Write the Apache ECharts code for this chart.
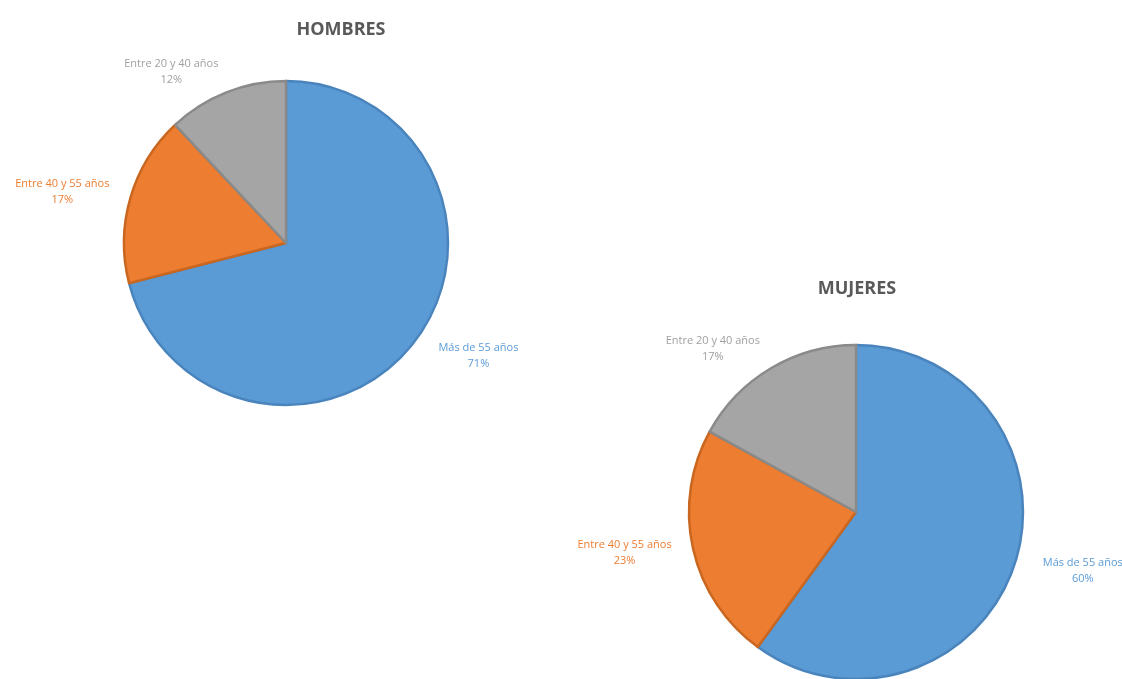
<!DOCTYPE html>
<html>
<head>
<meta charset="utf-8">
<script src="https://cdn.jsdelivr.net/npm/echarts@6/dist/echarts.min.js"></script>
<style>
  html, body { margin: 0; padding: 0; background: #ffffff; }
  #chart { width: 1122px; height: 679px; }
</style>
</head>
<body>
<div id="chart"></div>
<script>
// Age groups, listed clockwise from 12 o'clock
const categories = ['Más de 55 años', 'Entre 40 y 55 años', 'Entre 20 y 40 años'];
const hombres = [71, 17, 12];
const mujeres = [60, 23, 17];
const titles = ['HOMBRES', 'MUJERES'];

const fills = ['#5b9bd5', '#ed7d31', '#a5a5a5'];
const edges = ['#4a84bd', '#c9661f', '#8a8a8a'];
const labelColors = ['#5b9bd5', '#ed7d31', '#a0a0a0'];

function toData(values) {
  return categories.map((name, i) => ({
    name: name,
    value: values[i],
    itemStyle: { color: fills[i], borderColor: edges[i], borderWidth: 2.5 },
    label: { color: labelColors[i] }
  }));
}

function pieSeries(values, center, radius) {
  return {
    type: 'pie',
    center: center,
    radius: radius,
    startAngle: 90,
    clockwise: true,
    silent: true,
    animation: false,
    data: toData(values),
    label: {
      show: true,
      position: 'outside',
      formatter: '{b}\n{c}%',
      fontFamily: 'Open Sans',
      fontSize: 11,
      lineHeight: 16,
      align: 'center',
      overflow: 'none'
    },
    labelLine: { show: false, length: 22, length2: 42 },
    labelLayout: function () {
      return { align: 'center', verticalAlign: 'middle' };
    }
  };
}

const titleStyle = { fontFamily: 'Open Sans', fontSize: 18, fontWeight: 'bold', color: '#595959' };

const chart = echarts.init(document.getElementById('chart'), null, { renderer: 'canvas' });
chart.setOption({
  backgroundColor: '#ffffff',
  title: [
    { text: titles[0], left: 336, top: 16, textAlign: 'center', textStyle: titleStyle },
    { text: titles[1], left: 852, top: 275, textAlign: 'center', textStyle: titleStyle }
  ],
  series: [
    pieSeries(hombres, [286, 243], 162),
    pieSeries(mujeres, [856, 512], 167)
  ]
});
</script>
</body>
</html>
